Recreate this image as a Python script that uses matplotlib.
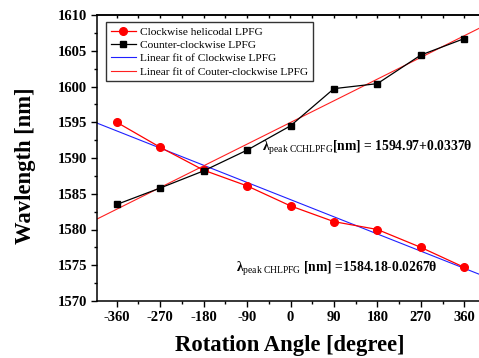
import numpy as np
import matplotlib
matplotlib.use("Agg")
import matplotlib.pyplot as plt
from matplotlib.ticker import MultipleLocator

# ---- data ----
angles = [-360, -270, -180, -90, 0, 90, 180, 270, 360]
clockwise = [1595.0, 1591.5, 1588.3, 1586.1, 1583.3, 1581.1, 1580.0, 1577.5, 1574.7]
counter = [1583.5, 1585.8, 1588.2, 1591.1, 1594.5, 1599.7, 1600.4, 1604.4, 1606.7]
fit_cw = (1584.18, -0.0267)   # intercept, slope
fit_ccw = (1594.97, 0.0337)
x_ticks = [-360, -270, -180, -90, 0, 90, 180, 270, 360]
y_ticks = [1570, 1575, 1580, 1585, 1590, 1595, 1600, 1605, 1610]
legend_labels = ["Clockwise helicodal LPFG", "Counter-clockwise LPFG",
                 "Linear fit of Clockwise LPFG", "Linear fit of Couter-clockwise LPFG"]

plt.rcParams['font.family'] = ['Liberation Serif', 'DejaVu Serif']
plt.rcParams['axes.unicode_minus'] = False
plt.rcParams['mathtext.fontset'] = 'custom'
plt.rcParams['mathtext.rm'] = 'Liberation Serif'
plt.rcParams['mathtext.bf'] = 'Liberation Serif:bold'
plt.rcParams['mathtext.it'] = 'Liberation Serif:italic'

fig = plt.figure(figsize=(4.79, 3.58), dpi=100)
ax = fig.add_axes([97.4/479, 1-301/358, 386.2/479, 286/358])
ax.set_xlim(-400, 400)
ax.set_ylim(1570, 1610)

xx = np.array([-400, 400])
l3, = ax.plot(xx, fit_cw[0] + fit_cw[1]*xx, color='#2020ff', lw=0.8)
l4, = ax.plot(xx, fit_ccw[0] + fit_ccw[1]*xx, color='#ff2020', lw=0.8)
l1, = ax.plot(angles, clockwise, color='#ff0000', lw=0.9, marker='o', ms=5.5)
l2, = ax.plot(angles, counter, color='black', lw=0.9, marker='s', ms=4.8)

ax.spines['right'].set_visible(False)
for s in ax.spines.values():
    s.set_linewidth(1.1)
ax.set_xticks(x_ticks)
ax.set_yticks(y_ticks)
ax.xaxis.set_minor_locator(MultipleLocator(45))
ax.yaxis.set_minor_locator(MultipleLocator(2.5))
ax.tick_params(which='major', direction='out', length=4.5, width=1, pad=3)
ax.tick_params(which='minor', direction='out', length=2.5, width=1)
for lab in ax.get_xticklabels() + ax.get_yticklabels():
    lab.set_fontweight('bold')
    lab.set_fontsize(10.5)

sec = ax.secondary_xaxis('top')
sec.set_xticks(np.arange(-360, 361, 45))
sec.tick_params(direction='in', length=2.5, width=1, labeltop=False)
sec.spines['top'].set_linewidth(1.1)

fig.text(290/479, 1-346/358, "Rotation Angle [degree]", fontsize=16.3,
         fontweight='bold', ha='center', va='center')
fig.text(26/479, 1-166/358, "Wavlength [nm]", fontsize=16.3,
         fontweight='bold', ha='center', va='center', rotation=90)

leg = ax.legend([l1, l2, l3, l4], legend_labels, loc='upper left',
                bbox_to_anchor=(106/479, 1-22/358), bbox_transform=fig.transFigure,
                fontsize=8.2, frameon=True, fancybox=False, edgecolor='#333333',
                framealpha=1, handlelength=2.2, handletextpad=0.4, labelspacing=0.3,
                borderpad=0.4, borderaxespad=0)
leg.get_frame().set_linewidth(1.0)

ax.text(262/479, 1-148/358,
        r"$\boldsymbol{\lambda}_{\mathrm{peak\ CCHLPFG}}$[nm] = 1594.97+0.0337θ",
        transform=fig.transFigure, fontsize=9.8, fontweight='bold', va='center', ha='left')
ax.text(236/479, 1-269/358,
        r"$\boldsymbol{\lambda}_{\mathrm{peak\ CHLPFG}}$ [nm] =1584.18-0.0267θ",
        transform=fig.transFigure, fontsize=9.8, fontweight='bold', va='center', ha='left')

fig.savefig("out.png", dpi=100)
